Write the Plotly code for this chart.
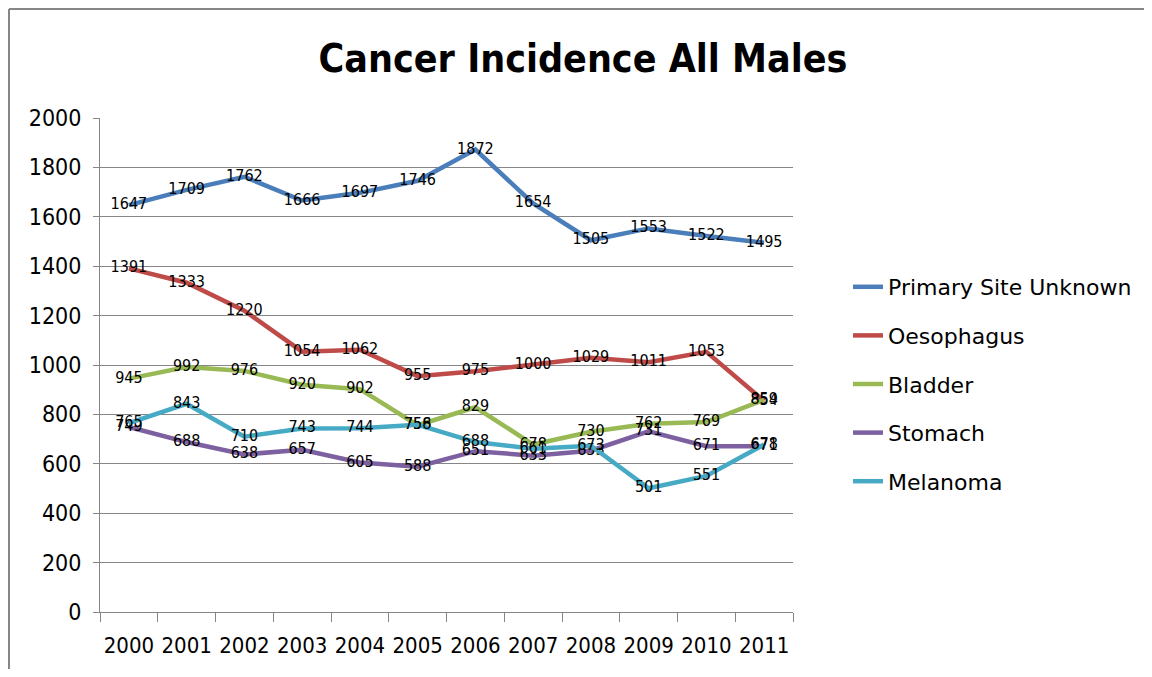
import plotly.graph_objects as go

years = ["2000", "2001", "2002", "2003", "2004", "2005", "2006", "2007", "2008", "2009", "2010", "2011"]
primary_site_unknown = [1647, 1709, 1762, 1666, 1697, 1746, 1872, 1654, 1505, 1553, 1522, 1495]
oesophagus = [1391, 1333, 1220, 1054, 1062, 955, 975, 1000, 1029, 1011, 1053, 854]
bladder = [945, 992, 976, 920, 902, 756, 829, 678, 730, 762, 769, 859]
stomach = [749, 688, 638, 657, 605, 588, 651, 633, 653, 731, 671, 671]
melanoma = [765, 843, 710, 743, 744, 758, 688, 661, 673, 501, 551, 678]

series = [
    ("Primary Site Unknown", primary_site_unknown, "#4A7EBB"),
    ("Oesophagus", oesophagus, "#BE4B48"),
    ("Bladder", bladder, "#98B954"),
    ("Stomach", stomach, "#7D60A0"),
    ("Melanoma", melanoma, "#46AAC5"),
]

FONT = "Liberation Sans Narrow, DejaVu Sans Condensed, Arial Narrow, sans-serif"

fig = go.Figure()
for name, vals, color in series:
    fig.add_trace(go.Scatter(
        x=years, y=vals, name=name, legendgroup=name,
        mode="lines+text", text=[str(v) for v in vals],
        textposition="middle center",
        textfont=dict(family=FONT, size=16, color="#000000"),
        line=dict(color=color, width=4.5),
        cliponaxis=False,
    ))

# page has an 8px body margin; figure coords = page coords - 8
W, H = 1136, 661
L, T = 92, 110
pw, ph = 693, 494
R, B = W - L - pw, H - T - ph

fig.update_layout(
    width=W, height=H,
    margin=dict(l=L, r=R, t=T, b=B, autoexpand=False),
    paper_bgcolor="white", plot_bgcolor="white",
    title=dict(text="<b>Cancer Incidence All Males</b>", x=575 / W, xanchor="center",
               y=1 - 50 / H, yanchor="middle",
               font=dict(family="Liberation Sans Narrow, DejaVu Sans Condensed, sans-serif", size=39, color="#000000")),
    showlegend=True,
    legend=dict(x=(840 - L) / pw, xanchor="left", y=(T + ph - 376) / ph, yanchor="middle",
                font=dict(family="DejaVu Sans, Liberation Sans, sans-serif", size=22, color="#000000"),
                tracegroupgap=17, bgcolor="rgba(0,0,0,0)"),
    xaxis=dict(type="category", range=[-0.5, 11.5], tickson="boundaries", ticks="outside", ticklen=9,
               tickangle=0, automargin=False,
               tickcolor="#868686", showline=True, linecolor="#868686", linewidth=1, showgrid=False,
               tickfont=dict(family=FONT, size=22, color="#000000"), ticklabelstandoff=14),
    yaxis=dict(range=[0, 2000], dtick=200, ticks="outside", ticklen=6, tickcolor="#868686",
               automargin=False,
               showline=True, linecolor="#868686", linewidth=1, showgrid=True, gridcolor="#868686",
               gridwidth=1, zeroline=False,
               tickfont=dict(family=FONT, size=23, color="#000000"), ticklabelstandoff=7),
)

# chart-area border: left and top edges
fig.add_shape(type="line", xref="paper", yref="paper",
              x0=(1 - L) / pw, x1=(1 - L) / pw, y0=-B / ph, y1=(T + ph - 1) / ph,
              line=dict(color="#868686", width=2), layer="below")
fig.add_shape(type="line", xref="paper", yref="paper",
              x0=(1 - L) / pw, x1=(W - L) / pw, y0=(T + ph - 1) / ph, y1=(T + ph - 1) / ph,
              line=dict(color="#868686", width=2), layer="below")

fig.write_html("out.html")
